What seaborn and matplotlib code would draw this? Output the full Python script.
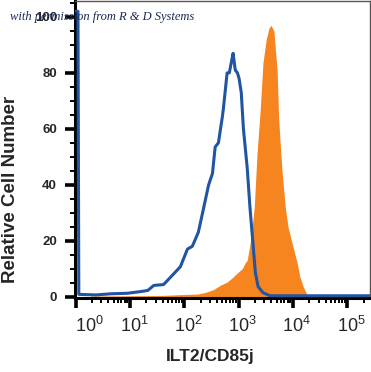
import numpy as np
import pandas as pd
import matplotlib
matplotlib.use("Agg")
import matplotlib.pyplot as plt
import seaborn as sns
from matplotlib.ticker import MultipleLocator, LogLocator, NullFormatter, FixedLocator
from matplotlib.transforms import ScaledTranslation

# ── Data (x as log10 of intensity) ─────────────────────────────────────
blue_log = [0.0, 0.02, 0.045, 0.06, 0.375, 0.65, 0.96, 1.2, 1.33, 1.44, 1.62, 1.80,
            1.93, 2.06, 2.15, 2.26, 2.35, 2.45, 2.52, 2.57, 2.63, 2.70, 2.72, 2.79,
            2.83, 2.87, 2.90, 2.94, 2.98, 3.01, 3.05, 3.09, 3.16, 3.21, 3.27, 3.31,
            3.36, 3.45, 3.58, 4.5, 5.42]
blue_val = [102, 102, 102, 0.8, 0.6, 1.0, 1.2, 1.8, 2.2, 4.0, 4.3, 8.0,
            10.7, 17, 18, 23, 31, 40, 44, 53.5, 55, 64, 67, 80,
            80, 84, 87, 81, 80, 78, 73, 60, 46, 32, 18, 8.6,
            3.6, 1.4, 0.3, 0.3, 0.3]

orange_log = [0.28, 1.02, 1.57, 1.93, 2.24, 2.39, 2.54, 2.66, 2.79, 2.90, 2.98, 3.07,
              3.12, 3.16, 3.23, 3.29, 3.34, 3.40, 3.45, 3.51, 3.56, 3.60, 3.65, 3.71,
              3.74, 3.80, 3.86, 3.91, 4.00, 4.08, 4.13, 4.19, 4.26, 4.31, 4.40]
orange_val = [0.2, 0.3, 0.4, 0.7, 0.9, 1.5, 2.5, 4.0, 5.2, 7.0, 8.5, 10,
              12, 13, 21, 32, 51, 67, 83.6, 92, 96, 97, 95, 81,
              63, 45, 32, 25, 18, 12, 7, 3.6, 0.7, 0.2, 0.0]

x_decades = [0, 1, 2, 3, 4, 5]
y_ticks = [0, 20, 40, 60, 80, 100]

BLUE = "#1f55a3"
ORANGE = "#f6841f"

blue = pd.DataFrame({"x": np.power(10.0, blue_log), "y": blue_val})
orange = pd.DataFrame({"x": np.power(10.0, orange_log), "y": orange_val})

# ── Figure ──────────────────────────────────────────────────────────────
sns.set_style("ticks")
plt.rcParams["font.family"] = ["Liberation Sans", "DejaVu Sans"]
plt.rcParams["mathtext.fontset"] = "custom"
plt.rcParams["mathtext.rm"] = "Liberation Sans"

fig = plt.figure(figsize=(3.71, 3.72), dpi=100)
ax = fig.add_axes([75 / 371, 1 - 298 / 372, 295 / 371, 297 / 372])

ax.fill_between(orange["x"], orange["y"], 0, color=ORANGE, linewidth=0, zorder=1)
sns.lineplot(data=blue, x="x", y="y", color=BLUE, linewidth=2.2, ax=ax,
             sort=False, estimator=None, zorder=3)

ax.set_xscale("log")
ax.set_xlim(10 ** -0.01, 10 ** 5.42)
ax.set_ylim(-0.5, 105.7)

ax.xaxis.set_major_locator(FixedLocator([10.0 ** d for d in x_decades]))
ax.set_xticklabels([r"$\mathregular{10^{%d}}$" % d for d in x_decades], fontsize=13)
ax.xaxis.set_minor_locator(LogLocator(base=10, subs=np.arange(2, 10), numticks=20))
ax.xaxis.set_minor_formatter(NullFormatter())

ax.yaxis.set_major_locator(FixedLocator(y_ticks))
ax.set_yticklabels([str(v) for v in y_ticks], fontsize=9.5, fontweight="bold")
ax.yaxis.set_minor_locator(MultipleLocator(5))

ax.tick_params(axis="both", which="major", length=7, width=2.6, color="black",
               direction="out")
ax.tick_params(axis="both", which="minor", length=3.5, width=1.4, color="black",
               direction="out")
ax.tick_params(axis="x", which="major", pad=6)
ax.tick_params(axis="y", which="major", pad=6)

# nudge x labels right like the reference
for i, lab in enumerate(ax.get_xticklabels()):
    dx = 14 if i == 0 else 4
    lab.set_transform(lab.get_transform() + ScaledTranslation(dx / 100, 0, fig.dpi_scale_trans))

for side in ["left", "bottom"]:
    ax.spines[side].set_linewidth(2.2)
    ax.spines[side].set_color("black")
for side in ["top", "right"]:
    ax.spines[side].set_visible(True)
    ax.spines[side].set_linewidth(1.0)
    ax.spines[side].set_color("#555555")

ax.set_xlabel("")
ax.set_ylabel("")

fig.text(11 / 371, 1 - 189 / 372, "Relative Cell Number", rotation=90,
         ha="center", va="center", fontsize=13.5, fontweight="bold")
fig.text(210 / 371, 1 - 357 / 372, "ILT2/CD85j", ha="center", va="center",
         fontsize=12.5, fontweight="bold")
fig.text(10 / 371, 1 - 20 / 372, "with permission from R & D Systems",
         family=["Liberation Serif", "DejaVu Serif"], style="italic",
         fontsize=9, color="#1c2857", ha="left", va="baseline")

fig.savefig("out.png", dpi=100)
